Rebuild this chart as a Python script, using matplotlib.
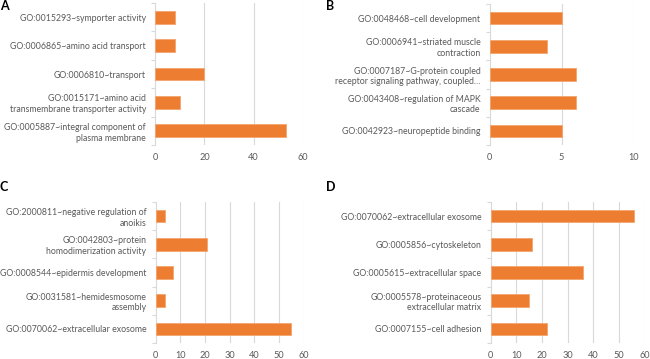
import matplotlib
matplotlib.use("Agg")
import matplotlib.pyplot as plt

plt.rcParams['font.family'] = ['Lato', 'DejaVu Sans']

# Panel A
a_labels = ["GO:0015293~symporter activity",
            "GO:0006865~amino acid transport",
            "GO:0006810~transport",
            "GO:0015171~amino acid\ntransmembrane transporter activity",
            "GO:0005887~integral component of\nplasma membrane"]
a_values = [8, 8, 20, 10, 53]
a_ticks = [0, 20, 40, 60]

# Panel B
b_labels = ["GO:0048468~cell development",
            "GO:0006941~striated muscle\ncontraction",
            "GO:0007187~G-protein coupled\nreceptor signaling pathway, coupled\u2026",
            "GO:0043408~regulation of MAPK\ncascade",
            "GO:0042923~neuropeptide binding"]
b_values = [5, 4, 6, 6, 5]
b_ticks = [0, 5, 10]

# Panel C
c_labels = ["GO:2000811~negative regulation of\nanoikis",
            "GO:0042803~protein\nhomodimerization activity",
            "GO:0008544~epidermis development",
            "GO:0031581~hemidesmosome\nassembly",
            "GO:0070062~extracellular exosome"]
c_values = [4, 21, 7, 4, 55]
c_ticks = [0, 10, 20, 30, 40, 50, 60]

# Panel D
d_labels = ["GO:0070062~extracellular exosome",
            "GO:0005856~cytoskeleton",
            "GO:0005615~extracellular space",
            "GO:0005578~proteinaceous\nextracellular matrix",
            "GO:0007155~cell adhesion"]
d_values = [56, 16, 36, 15, 22]
d_ticks = [0, 10, 20, 30, 40, 50, 60]

W, H = 650, 359
fig = plt.figure(figsize=(W / 100, H / 100), dpi=100)

BAR = '#ED7D31'
TXT = '#595959'
GRID = '#D9D9D9'
FS = 6.3


def make_ax(px_left, px_right, px_top, px_bottom):
    return fig.add_axes([px_left / W, 1 - px_bottom / H,
                         (px_right - px_left) / W, (px_bottom - px_top) / H])


def panel(ax, labels, values, ticks, letter, lx, ly):
    n = len(labels)
    pos = list(range(n))
    ax.barh(pos, values, height=0.45, color=BAR, edgecolor='#F4A56E', linewidth=0.6, zorder=3)
    ax.set_ylim(n - 0.5, -0.5)
    ax.set_xlim(ticks[0], ticks[-1])
    ax.set_xticks(ticks)
    ax.set_xticklabels([str(t) for t in ticks])
    ax.set_yticks(pos)
    ax.set_yticklabels(labels, ha='right', linespacing=1.25)
    ax.set_yticks([i - 0.5 for i in range(n + 1)], minor=True)
    ax.tick_params(axis='y', which='major', length=0, pad=6.5, labelsize=FS, labelcolor=TXT)
    ax.tick_params(axis='y', which='minor', length=3, width=0.8, color=GRID)
    ax.tick_params(axis='x', length=0, pad=6, labelsize=FS + 0.3, labelcolor=TXT)
    for s in ['top', 'right', 'bottom']:
        ax.spines[s].set_visible(False)
    ax.spines['left'].set_color(GRID)
    ax.spines['left'].set_linewidth(0.8)
    for t in ticks[1:]:
        ax.axvline(t, color=GRID, linewidth=0.8, zorder=1)
    fig.text(lx / W, 1 - ly / H, letter, fontsize=9, fontweight='bold',
             color='black', ha='left', va='top')


axA = make_ax(155, 303, 3, 145)
panel(axA, a_labels, a_values, a_ticks, 'A', 0, 0)
axB = make_ax(489.5, 633.5, 4, 145)
panel(axB, b_labels, b_values, b_ticks, 'B', 326, 0)
axC = make_ax(155.5, 303.5, 202, 343)
panel(axC, c_labels, c_values, c_ticks, 'C', 0, 181)
axD = make_ax(490.5, 644.5, 202, 343)
panel(axD, d_labels, d_values, d_ticks, 'D', 326, 181)

fig.savefig('out.png', dpi=100)
